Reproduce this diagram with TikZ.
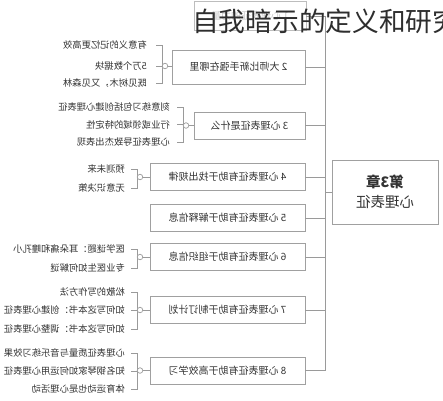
\documentclass[tikz,border=0pt]{standalone}
\usepackage{fontspec}
\setmainfont{Noto Sans CJK SC}
\definecolor{txt}{HTML}{333333}
\definecolor{boxgray}{HTML}{A0A0A0}
\definecolor{linegray}{HTML}{9A9A9A}
\definecolor{titlec}{HTML}{2E2E2E}
\definecolor{faint}{HTML}{C8C8C8}
\tikzset{
  box/.style={draw=boxgray, line width=0.8pt, fill=white, minimum height=27pt,
    inner sep=0pt, font=\fontsize{10}{12}\selectfont, text=txt, xscale=-1},
  leaf/.style={font=\fontsize{9.3}{11}\selectfont, text=txt, inner sep=0pt,
    anchor=west, xscale=-1},
  conn/.style={draw=linegray, line width=0.8pt},
  knob/.style={circle, draw=linegray, line width=0.7pt, fill=white,
    minimum size=5.5pt, inner sep=0pt},
}
\begin{document}
\begin{tikzpicture}[x=1pt,y=-1pt]
\useasboundingbox[fill=white] (0,0) rectangle (443,400);

% boxes
\node[box, minimum width=112pt, minimum height=29pt, draw=boxgray!70, text=faint] (b1) at (250,16) {1 心理表征的力量};
\node[box, minimum width=133pt, minimum height=34pt] (b2) at (238.5,67) {2 大师比新手强在哪里};
\node[box, minimum width=111pt] (b3) at (249.5,125.5) {3 心理表征是什么};
\node[box, minimum width=155pt] (b4) at (227.5,177) {4 心理表征有助于找出规律};
\node[box, minimum width=155pt] (b5) at (227.5,218) {5 心理表征有助于解释信息};
\node[box, minimum width=155pt] (b6) at (227.5,257) {6 心理表征有助于组织信息};
\node[box, minimum width=155pt] (b7) at (227.5,310) {7 心理表征有助于制订计划};
\node[box, minimum width=155pt] (b8) at (227.5,370.5) {8 心理表征有助于高效学习};
\node[box, minimum width=106pt, minimum height=64pt, align=center,
      font=\fontsize{14.5}{20}\selectfont] (root) at (385,192) {\textbf{第3章}\\心理表征};

% spine
\coordinate (sTop) at (325,16);
\coordinate (sBot) at (325,370.5);
\draw[conn] (b1.west) -- (sTop) -- (sBot) -- (b8.west);
\foreach \b in {b2,b3,b4,b5,b6,b7}{
  \draw[conn] (\b.west) -- (\b.west -| sTop);
}
\draw[conn] (root.east -| sTop) -- (root.east);

% group 2
\node[leaf] (l21) at (147,45) {有意义的记忆更高效};
\node[leaf] (l22) at (147,66) {5万个数据块};
\node[leaf] (l23) at (147,83) {既见树木，又见森林};
\draw[conn] (156,45) -- (162,45) -- (162,83) -- (156,83);
\draw[conn] (156,66) -- (162,66);
\node[knob] (k2) at (165,66) {};
\draw[conn] (k2) -- (k2 -| b2.east);

% group 3
\node[leaf] (l31) at (170,107) {刻意练习包括创建心理表征};
\node[leaf] (l32) at (170,124.5) {行业或领域的特定性};
\node[leaf] (l33) at (170,142) {心理表征导致杰出表现};
\draw[conn] (177,107) -- (183,107) -- (183,142) -- (177,142);
\draw[conn] (177,124.5) -- (183,124.5);
\node[knob] (k3) at (186,125.5) {};
\draw[conn] (k3) -- (k3 -| b3.east);

% group 4
\node[leaf] (l41) at (125,169) {预测未来};
\node[leaf] (l42) at (125,188) {无意识决策};
\draw[conn] (131,169) -- (137,169) -- (137,188) -- (131,188);
\node[knob] (k4) at (140,177) {};
\draw[conn] (k4) -- (k4 -| b4.east);

% group 6
\node[leaf] (l61) at (125,249) {医学谜题：耳朵痛和瞳孔小};
\node[leaf] (l62) at (125,268) {专业医生如何解谜};
\draw[conn] (131,249) -- (137,249) -- (137,268) -- (131,268);
\node[knob] (k6) at (140,257) {};
\draw[conn] (k6) -- (k6 -| b6.east);

% group 7
\node[leaf] (l71) at (125,292) {松散的写作方法};
\node[leaf] (l72) at (125,310) {如何写这本书：创建心理表征};
\node[leaf] (l73) at (125,329) {如何写这本书：调整心理表征};
\draw[conn] (131,292) -- (137,292) -- (137,329) -- (131,329);
\draw[conn] (131,310) -- (137,310);
\node[knob] (k7) at (140,310) {};
\draw[conn] (k7) -- (k7 -| b7.east);

% group 8
\node[leaf] (l81) at (125,353) {心理表征质量与音乐练习效果};
\node[leaf] (l82) at (125,371) {知名钢琴家如何运用心理表征};
\node[leaf] (l83) at (125,389) {体育运动也是心理活动};
\draw[conn] (131,353) -- (137,353) -- (137,389) -- (131,389);
\draw[conn] (131,371) -- (137,371);
\node[knob] (k8) at (140,370.5) {};
\draw[conn] (k8) -- (k8 -| b8.east);

% title overlay
\node[anchor=west, inner sep=0pt, text=titlec, font=\fontsize{26.7}{32}\selectfont] (title) at (192,21) {自我暗示的定义和研究};
\end{tikzpicture}
\end{document}
